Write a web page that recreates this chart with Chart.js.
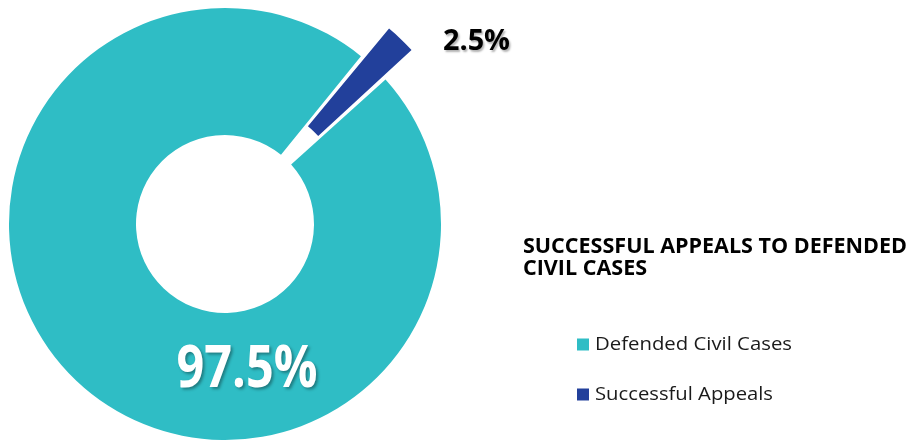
<!DOCTYPE html>
<html>
<head>
<meta charset="utf-8">
<script src="https://cdn.jsdelivr.net/npm/chart.js@4/dist/chart.umd.min.js"></script>
<style>
  html, body { margin: 0; padding: 0; background: #ffffff; overflow: hidden; }
  #wrap { position: relative; width: 913px; height: 442px; }
</style>
</head>
<body>
<div id="wrap"><canvas id="c" width="913" height="442"></canvas></div>
<script>
// Share of defended civil cases vs. successful appeals (percent)
const categories = ['Defended Civil Cases', 'Successful Appeals'];
const shares = [97.5, 2.5];
const titleLines = ['SUCCESSFUL APPEALS TO DEFENDED', 'CIVIL CASES'];

const sliceColors = ['#2fbdc5', '#22409b'];

// Draw text squeezed/stretched horizontally to a target width
function drawFitted(ctx, text, x, y, font, color, targetWidth, align, shadow) {
  ctx.save();
  ctx.font = font;
  ctx.fillStyle = color;
  ctx.textBaseline = 'alphabetic';
  ctx.textAlign = 'left';
  const w = ctx.measureText(text).width;
  const k = targetWidth ? targetWidth / w : 1;
  let left = x;
  if (align === 'center') left = x - (w * k) / 2;
  if (shadow) {
    ctx.shadowColor = shadow.color;
    ctx.shadowBlur = shadow.blur;
    ctx.shadowOffsetX = shadow.dx;
    ctx.shadowOffsetY = shadow.dy;
  }
  ctx.translate(left, y);
  ctx.scale(k, 1);
  ctx.fillText(text, 0, 0);
  ctx.restore();
}

const fmtPct = v => v.toFixed(1) + '%';

const textPlugin = {
  id: 'sideText',
  afterDatasetsDraw(chart) {
    const ctx = chart.ctx;
    const arcs = chart.getDatasetMeta(0).data;
    const cx = arcs[0].x, cy = arcs[0].y;

    // value labels
    drawFitted(ctx, fmtPct(shares[0]), cx + 22, cy + 163,
      'bold 59px "Open Sans"', '#ffffff', 141, 'center',
      { color: 'rgba(0,0,0,0.35)', blur: 3, dx: 2, dy: 2 });
    drawFitted(ctx, fmtPct(shares[1]), cx + 218, cy - 174,
      'bold 28px "Open Sans"', '#000000', 67, 'left',
      { color: 'rgba(0,0,0,0.3)', blur: 2, dx: 1.5, dy: 1.5 });

    // title block
    ctx.save();
    ctx.font = 'bold 21px "Open Sans"';
    const k = 384 / ctx.measureText(titleLines[0]).width;
    ctx.restore();
    titleLines.forEach((line, i) => {
      ctx.save();
      ctx.font = 'bold 21px "Open Sans"';
      const w = ctx.measureText(line).width * k;
      ctx.restore();
      drawFitted(ctx, line, 523, 253 + i * 21.5, 'bold 21px "Open Sans"', '#000000', w, 'left');
    });

    // legend
    const legendWidths = [197, 178];
    categories.forEach((name, i) => {
      const base = 350 + i * 50;
      ctx.save();
      ctx.fillStyle = sliceColors[i];
      ctx.fillRect(577, base - 11.5, 12, 12);
      ctx.restore();
      drawFitted(ctx, name, 595, base, '18px "Open Sans"', '#1a1a1a', legendWidths[i], 'left');
    });
  }
};

new Chart(document.getElementById('c'), {
  type: 'doughnut',
  data: {
    labels: categories,
    datasets: [{
      data: shares,
      backgroundColor: sliceColors,
      borderWidth: 0,
      offset: [0, 85],
      hoverOffset: 0,
      clip: false
    }]
  },
  options: {
    responsive: false,
    animation: false,
    rotation: 48,
    radius: 216,
    cutout: '41.2%',
    layout: { padding: { left: 0, right: 463, top: 6, bottom: 0 } },
    plugins: {
      legend: { display: false },
      tooltip: { enabled: false },
      title: { display: false }
    },
    events: []
  },
  plugins: [textPlugin]
});
</script>
</body>
</html>
